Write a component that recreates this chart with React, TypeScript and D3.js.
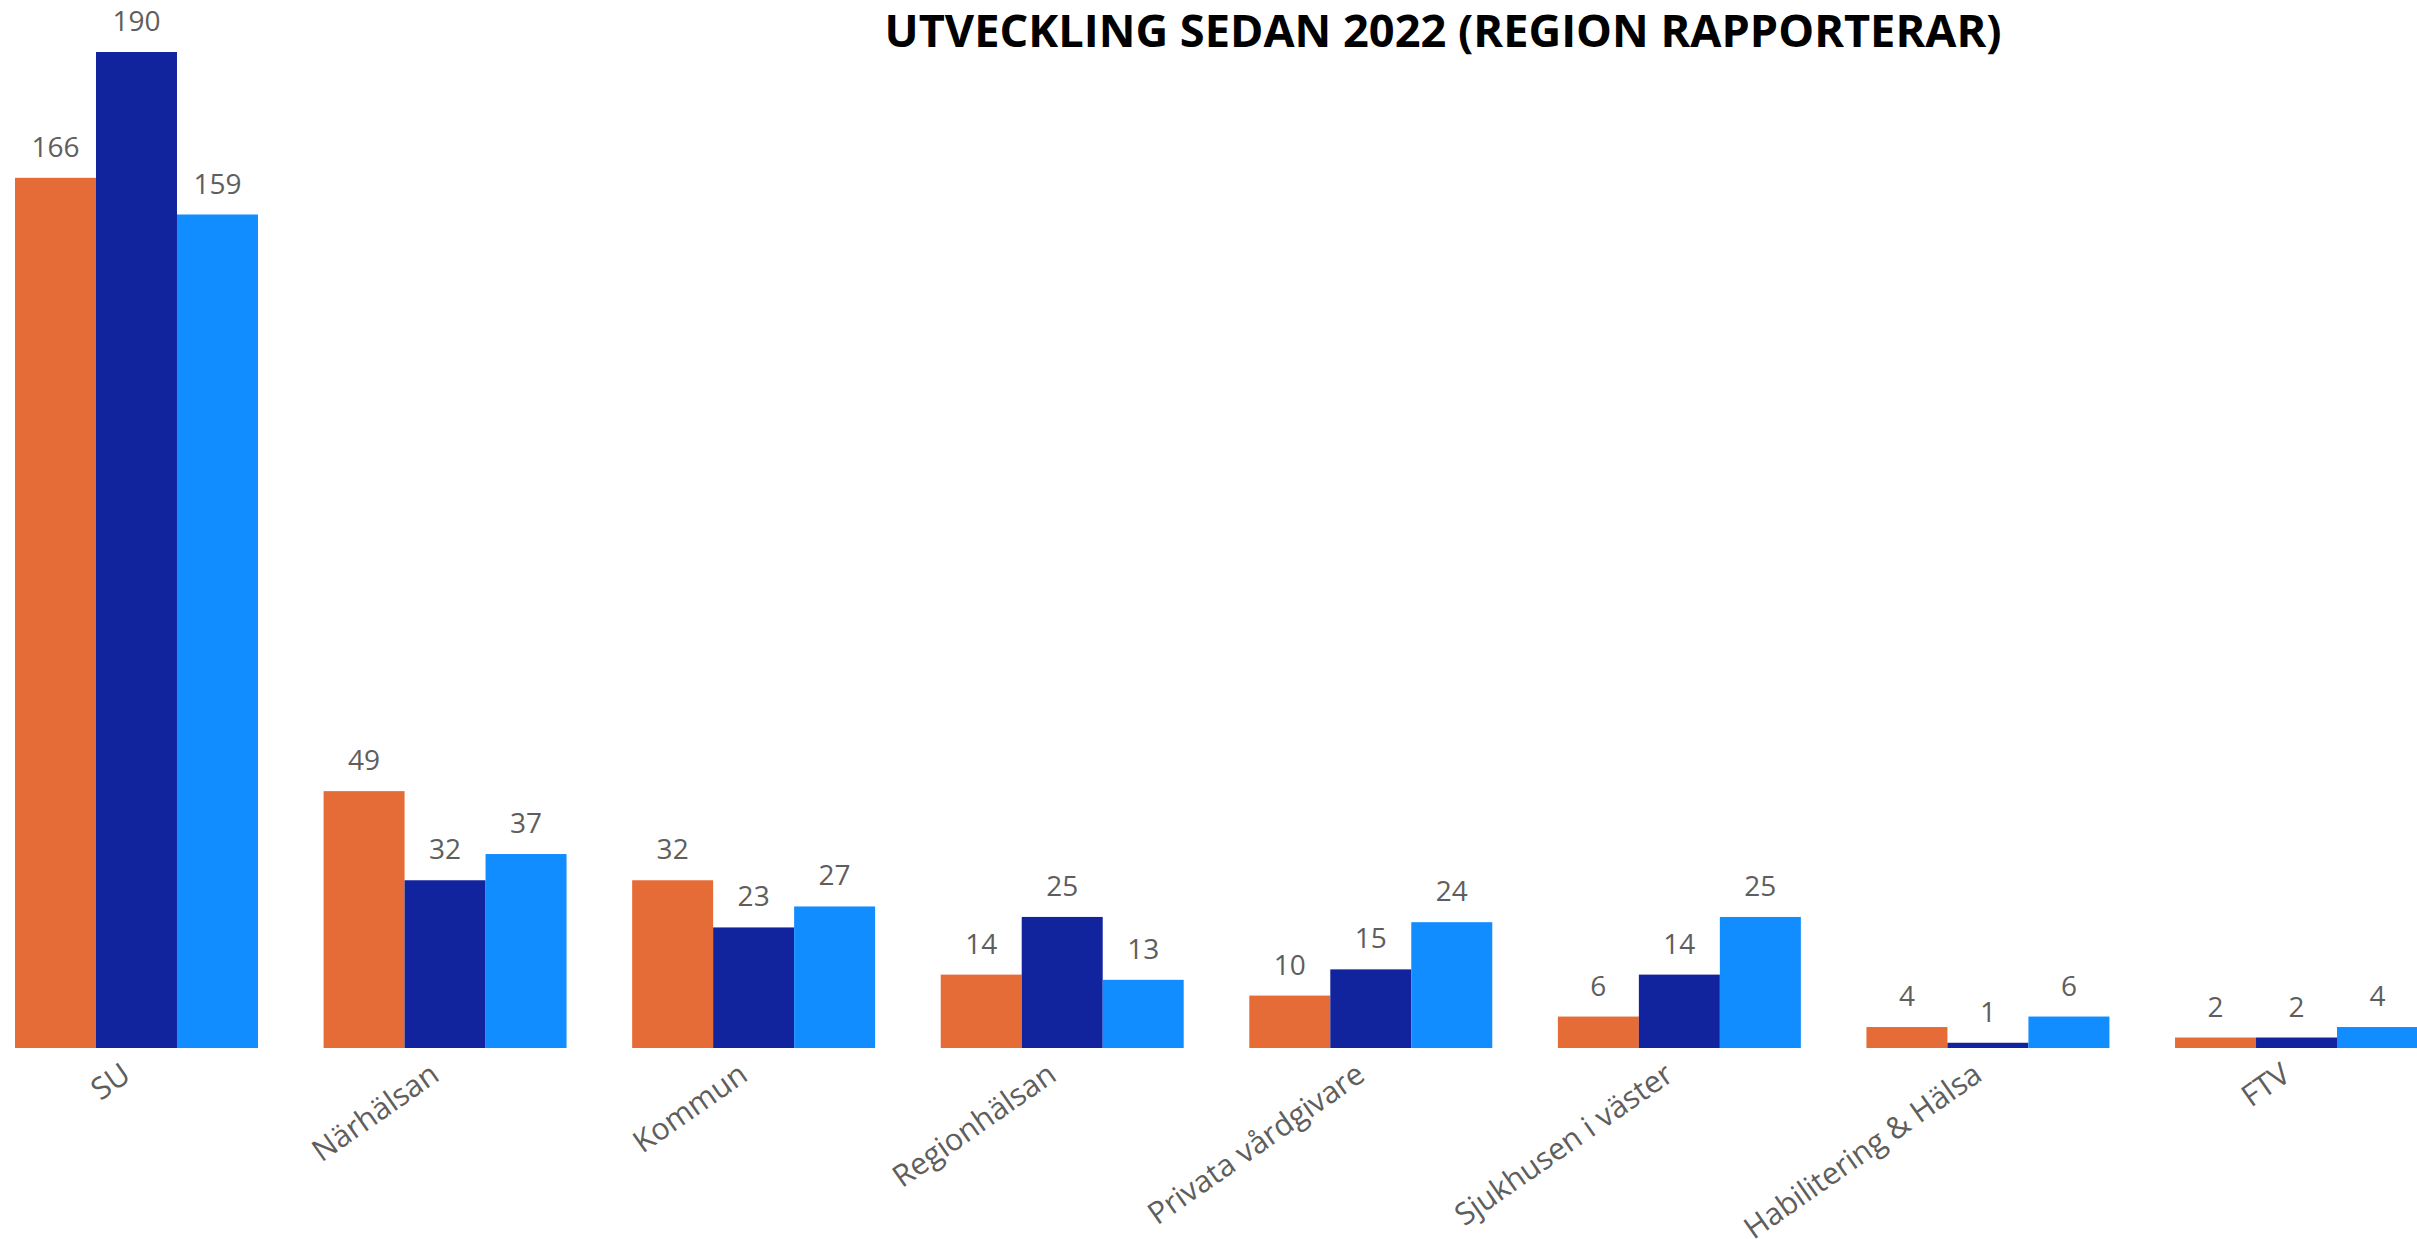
import React, { useEffect, useRef } from 'react';
import * as d3 from 'd3';

const categories = ['SU', 'Närhälsan', 'Kommun', 'Regionhälsan', 'Privata vårdgivare', 'Sjukhusen i väster', 'Habilitering & Hälsa', 'FTV'];
const seriesNames = ['2022', '2023', '2024'];
const values2022 = [166, 49, 32, 14, 10, 6, 4, 2];
const values2023 = [190, 32, 23, 25, 15, 14, 1, 2];
const values2024 = [159, 37, 27, 13, 24, 25, 6, 4];
const colors = ['#E66C37', '#12239E', '#118DFF'];
const title = 'UTVECKLING SEDAN 2022 (REGION RAPPORTERAR)';

const W = 2417, H = 1239;

export default function App() {
  const ref = useRef<SVGSVGElement>(null);

  useEffect(() => {
    const svg = d3.select(ref.current);
    svg.selectAll('*').remove();

    const series = [values2022, values2023, values2024];
    const rows = categories.map((c, i) => ({ cat: c, vals: series.map((s, k) => ({ key: seriesNames[k], v: s[i], k })) }));

    /**
    * Scales
    **/
    var x0 = d3.scaleBand().domain(categories).range([15, 2418]).paddingInner(0.2126).paddingOuter(0);
    var x1 = d3.scaleBand().domain(seriesNames).range([0, x0.bandwidth()]);
    var y = d3.scaleLinear().domain([0, 190]).range([1048, 52]);

    /**
    * Title
    **/
    svg.append('text')
      .attr('x', 1443).attr('y', 47)
      .attr('text-anchor', 'middle')
      .attr('font-family', 'Open Sans, sans-serif')
      .attr('font-weight', 'bold')
      .attr('font-size', 44)
      .attr('textLength', 1117)
      .attr('lengthAdjust', 'spacingAndGlyphs')
      .attr('fill', '#000')
      .text(title);

    /**
    * Bars
    **/
    var group = svg.selectAll('.grp').data(rows).enter().append('g')
      .attr('class', 'grp')
      .attr('transform', function(d) { return 'translate(' + x0(d.cat) + ',0)'; });

    group.selectAll('rect').data(function(d) { return d.vals; }).enter().append('rect')
      .attr('x', function(d) { return x1(d.key)!; })
      .attr('width', x1.bandwidth())
      .attr('y', function(d) { return y(d.v); })
      .attr('height', function(d) { return y(0) - y(d.v); })
      .attr('fill', function(d) { return colors[d.k]; });

    group.selectAll('.lbl').data(function(d) { return d.vals; }).enter().append('text')
      .attr('class', 'lbl')
      .attr('x', function(d) { return x1(d.key)! + x1.bandwidth() / 2; })
      .attr('y', function(d) { return y(d.v) - 21; })
      .attr('text-anchor', 'middle')
      .attr('font-family', 'Open Sans, sans-serif')
      .attr('font-size', 28)
      .attr('fill', '#605E5C')
      .text(function(d) { return d.v; });

    /**
    * Category axis labels
    **/
    svg.selectAll('.cat').data(categories).enter().append('text')
      .attr('class', 'cat')
      .attr('transform', function(d) { return 'translate(' + (x0(d)! + x0.bandwidth() / 2 - 4) + ',' + (y(0) + 31) + ') rotate(-35)'; })
      .attr('text-anchor', 'end')
      .attr('font-family', 'Open Sans, sans-serif')
      .attr('font-size', 30.5)
      .attr('fill', '#605E5C')
      .text(function(d) { return d; });
  }, []);

  return (
    <svg ref={ref} width={W} height={H} style={{ position: 'absolute', left: 0, top: 0, background: '#fff' }} />
  );
}
